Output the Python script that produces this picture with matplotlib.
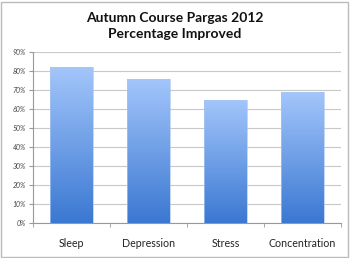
import matplotlib
import numpy as np

matplotlib.use("Agg")
import matplotlib.pyplot as plt
from matplotlib.patches import Rectangle
from matplotlib.ticker import MultipleLocator, FuncFormatter

categories = ["Sleep", "Depression", "Stress", "Concentration"]
improved = [0.82, 0.76, 0.65, 0.69]
title = "Autumn Course Pargas 2012\nPercentage Improved"

plt.rcParams["font.family"] = ["Lato", "DejaVu Sans"]

fig = plt.figure(figsize=(3.5, 2.58), dpi=100)
ax = fig.add_axes([0.094, 0.136, 0.880, 0.662])

x = np.arange(len(categories))
bars = ax.bar(x, improved, width=0.55, color="none", zorder=3)

# vertical gradient: light at top, darker at bottom
grad = np.linspace(0, 1, 256).reshape(-1, 1)
cmap = matplotlib.colors.LinearSegmentedColormap.from_list(
    "bar", ["#3b78d2", "#a3c6fb"]
)
for b in bars:
    bx, by = b.get_x(), b.get_y()
    w, h = b.get_width(), b.get_height()
    im = ax.imshow(grad, cmap=cmap, aspect="auto", origin="lower",
                   extent=(bx, bx + w, by, by + h), zorder=3)
    clip = Rectangle((bx, by), w, h, transform=ax.transData)
    im.set_clip_path(clip)
    ax.add_patch(Rectangle((bx, by), w, h, fill=False, ec="#a9c6ef",
                           lw=0.5, zorder=4))

ax.set_xlim(-0.5, len(categories) - 0.5)
ax.set_ylim(0, 0.9)
ax.yaxis.set_major_locator(MultipleLocator(0.1))
ax.yaxis.set_major_formatter(FuncFormatter(lambda v, _: f"{v * 100:.0f}%"))
ax.grid(axis="y", color="#c8c8c8", lw=0.8, zorder=0)
ax.set_axisbelow(True)

ax.set_xticks(x)
ax.set_xticklabels(categories, fontsize=7.7, color="#222222")
ax.set_xticks(np.arange(len(categories) + 1) - 0.5, minor=True)
ax.tick_params(axis="x", which="major", length=0, pad=11)
ax.tick_params(axis="x", which="minor", length=3, color="#999999")
ax.tick_params(axis="y", length=3, color="#999999", labelsize=5, pad=2,
               labelcolor="#444444")
for lab in ax.get_yticklabels():
    lab.set_fontstyle("italic")

for s in ["top", "right"]:
    ax.spines[s].set_visible(False)
for s in ["left", "bottom"]:
    ax.spines[s].set_color("#999999")
    ax.spines[s].set_linewidth(0.8)

fig.text(0.5, 0.90, title, ha="center", va="center", fontsize=10,
         fontweight="bold", color="#111111", linespacing=1.35)

fig.patches.append(Rectangle((0.003, 0.004), 0.990, 0.990, transform=fig.transFigure,
                             fill=False, ec="#bbbbbb", lw=1.0))

fig.savefig("out.png", dpi=100)
